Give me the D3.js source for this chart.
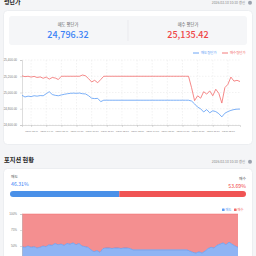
<!DOCTYPE html>
<html>
<head>
<meta charset="utf-8">
<script src="https://cdn.jsdelivr.net/npm/d3@7"></script>
<style>
  html, body { margin: 0; padding: 0; background: #f4f5f7; }
  svg { display: block; font-family: "Noto Sans CJK KR", "Noto Sans", sans-serif; }
</style>
</head>
<body>
<svg id="chart" width="256" height="256"></svg>
<script>
// ---- data ----
const summaryLabels = ["매도 평단가", "매수 평단가"];
const summaryValues = [24796.32, 25135.42];

const sellAvg = [
  24965, 24945, 24955, 24950, 24960, 24955, 24962, 24960, 24985, 25010,
  24975, 24965, 24960, 24970, 24978, 24985, 24990, 24992, 24990, 24993,
  24985, 24982, 24960, 24930, 24925, 24928, 24888, 24905, 24905, 24905,
  24905, 24905, 24905, 24905, 24905, 24905, 24905, 24905, 24905, 24905,
  24905, 24905, 24905, 24905, 24905, 24905, 24905, 24905, 24905, 24905,
  24905, 24905, 24905, 24905, 24905, 24905, 24895, 24860, 24820, 24800,
  24760, 24790, 24750, 24775, 24765, 24740, 24700, 24745, 24765, 24780,
  24790, 24795, 24796
];
const buyAvg = [
  25205, 25195, 25200, 25190, 25198, 25185, 25192, 25175, 25190, 25165,
  25185, 25178, 25160, 25200, 25200, 25200, 25200, 25200, 25200, 25200,
  25215, 25205, 25170, 25130, 25150, 25120, 25160, 25200, 25200, 25200,
  25200, 25200, 25200, 25200, 25200, 25200, 25200, 25200, 25200, 25200,
  25200, 25200, 25200, 25200, 25200, 25200, 25200, 25200, 25200, 25200,
  25200, 25200, 25200, 25200, 25200, 25200, 25060, 24900, 24960, 24930,
  25010, 24980, 25020, 24960, 25040, 24990, 24870, 25060, 25100, 25190,
  25140, 25150, 25135
];
const priceTicks = [24600, 24800, 25000, 25200, 25400];
const timeTickIndex = [3, 8, 13, 18, 23, 28, 33, 38, 43, 48, 53, 58, 63, 68];
const timeTickLabels = [
  "03/06 13:40", "03/06 14:40", "03/06 15:40", "03/09 09:10", "03/09 10:10",
  "03/09 11:10", "03/09 12:10", "03/09 13:10", "03/09 14:10", "03/09 15:10",
  "03/10 09:10", "03/10 10:10", "03/10 11:10", "03/10 12:10"
];
const seriesNames = ["매도평단가", "매수평단가"];

const positionLabels = ["매도", "매수"];
const positionShare = [46.31, 53.69];
const sellShare = [
  49, 48, 50, 48, 49, 47, 48, 50, 49, 52,
  51, 54, 52, 53, 51, 54, 53, 55, 52, 54,
  50, 49, 48, 44, 41, 43, 40, 46, 47, 47,
  46, 47, 47, 46, 47, 47, 46, 44, 44, 44,
  44, 44, 44, 44, 44, 44, 44, 44, 44, 44,
  44, 44, 44, 44, 44, 44, 42, 40, 39, 41,
  39, 42, 46, 48, 47, 51, 53, 55, 52, 56,
  53, 50, 48
];
const shareTicks = [50, 75, 100];
const updatedAt = "2026.03.10 10:10 갱신";

// ---- layout ----
const svg = d3.select("#chart");
const BLUE = "#3b82f6", RED = "#ef4444";

// top section (scrolled, title partly out of view)
svg.append("text").attr("x", 4).attr("y", 4).attr("font-size", 6)
  .attr("font-weight", 700).attr("fill", "#222").text("평단가");
const stamp = (y) => {
  svg.append("text").attr("x", 245).attr("y", y).attr("text-anchor", "end")
    .attr("font-size", 3.4).attr("fill", "#888").text(updatedAt);
  svg.append("circle").attr("cx", 250).attr("cy", y - 1.2).attr("r", 2)
    .attr("fill", "#9ca3af");
};
stamp(4);

// card 1
svg.append("rect").attr("x", 3.5).attr("y", 10.5).attr("width", 249).attr("height", 134)
  .attr("rx", 4).attr("fill", "#fff").attr("stroke", "#eceef1");
svg.append("rect").attr("x", 9).attr("y", 16).attr("width", 238).attr("height", 29)
  .attr("rx", 3).attr("fill", "#f5f6f8");
svg.append("line").attr("x1", 128).attr("x2", 128).attr("y1", 20).attr("y2", 41)
  .attr("stroke", "#e2e4e8").attr("stroke-width", 0.6);

const fmt = d3.format(",.2f");
summaryLabels.forEach((lab, i) => {
  const cx = i === 0 ? 68 : 188;
  svg.append("text").attr("x", cx).attr("y", 26).attr("text-anchor", "middle")
    .attr("font-size", 4.3).attr("fill", "#666").text(lab);
  svg.append("text").attr("x", cx).attr("y", 38).attr("text-anchor", "middle")
    .attr("font-size", 9).attr("font-weight", 500)
    .attr("fill", i === 0 ? BLUE : RED).text(fmt(summaryValues[i]));
});

// legend for line chart
const lineColors = ["#5b9cf5", "#f26b6b"];
const legX = [193, 222];
seriesNames.forEach((n, i) => {
  svg.append("line").attr("x1", legX[i]).attr("x2", legX[i] + 6).attr("y1", 53).attr("y2", 53)
    .attr("stroke", lineColors[i]).attr("stroke-width", 0.9);
  svg.append("text").attr("x", legX[i] + 8).attr("y", 54.2).attr("font-size", 3.4)
    .attr("fill", lineColors[i]).text(n);
});

// line chart
const xL = d3.scaleLinear().domain([0, sellAvg.length - 1]).range([22, 240]);
const yL = d3.scaleLinear().domain([24600, 25400]).range([125, 60]);
const g1 = svg.append("g");

g1.selectAll(".hgrid").data(priceTicks).join("line")
  .attr("x1", 22).attr("x2", 240).attr("y1", d => yL(d)).attr("y2", d => yL(d))
  .attr("stroke", "#ddd").attr("stroke-width", 0.4).attr("stroke-dasharray", "1.5,1.5");
g1.selectAll(".vgrid").data(timeTickIndex).join("line")
  .attr("x1", d => xL(d)).attr("x2", d => xL(d)).attr("y1", 60).attr("y2", 125)
  .attr("stroke", "#ddd").attr("stroke-width", 0.4).attr("stroke-dasharray", "1.5,1.5");

const yAxis = d3.axisLeft(yL).tickValues(priceTicks).tickFormat(fmt).tickSize(2);
g1.append("g").attr("transform", "translate(22,0)").call(yAxis)
  .call(a => a.selectAll("text").attr("font-size", 3).attr("fill", "#777"))
  .call(a => a.selectAll("line,path").attr("stroke", "#bbb").attr("stroke-width", 0.5));

const xAxis = d3.axisBottom(xL).tickValues(timeTickIndex)
  .tickFormat((d, i) => timeTickLabels[i]).tickSize(2);
g1.append("g").attr("transform", "translate(0,125)").call(xAxis)
  .call(a => a.selectAll("text").attr("font-size", 2.4).attr("fill", "#777"))
  .call(a => a.selectAll("line,path").attr("stroke", "#bbb").attr("stroke-width", 0.5));

const line = d3.line().x((d, i) => xL(i)).y(d => yL(d));
[sellAvg, buyAvg].forEach((s, i) => {
  g1.append("path").datum(s).attr("d", line).attr("fill", "none")
    .attr("stroke", lineColors[i]).attr("stroke-width", 0.8);
});

// section 2
svg.append("text").attr("x", 4).attr("y", 162).attr("font-size", 6.2)
  .attr("font-weight", 700).attr("fill", "#222").text("포지션 현황");
stamp(163);

svg.append("rect").attr("x", 3.5).attr("y", 168.5).attr("width", 249).attr("height", 100)
  .attr("rx", 4).attr("fill", "#fff").attr("stroke", "#eceef1");

svg.append("text").attr("x", 11).attr("y", 178).attr("font-size", 3.8)
  .attr("fill", "#555").text(positionLabels[0]);
svg.append("text").attr("x", 11).attr("y", 186).attr("font-size", 5.2)
  .attr("fill", BLUE).text(positionShare[0].toFixed(2) + "%");
svg.append("text").attr("x", 246).attr("y", 180).attr("text-anchor", "end")
  .attr("font-size", 3.8).attr("fill", "#555").text(positionLabels[1]);
svg.append("text").attr("x", 246).attr("y", 188).attr("text-anchor", "end")
  .attr("font-size", 5.2).attr("fill", RED).text(positionShare[1].toFixed(2) + "%");

const xBar = d3.scaleLinear().domain([0, 100]).range([10, 246]);
svg.append("defs").append("clipPath").attr("id", "barclip").append("rect")
  .attr("x", 10).attr("y", 191).attr("width", 236).attr("height", 6).attr("rx", 3);
const bar = svg.append("g").attr("clip-path", "url(#barclip)");
bar.append("rect").attr("x", xBar(0)).attr("y", 191)
  .attr("width", xBar(positionShare[0]) - xBar(0)).attr("height", 6).attr("fill", "#4a90e8");
bar.append("rect").attr("x", xBar(positionShare[0])).attr("y", 191)
  .attr("width", xBar(100) - xBar(positionShare[0])).attr("height", 6).attr("fill", "#f05454");

// legend area chart
const areaColors = ["#5b9cf5", "#f26b6b"];
const leg2X = [222, 234];
positionLabels.forEach((n, i) => {
  svg.append("rect").attr("x", leg2X[i]).attr("y", 208.5).attr("width", 2.6).attr("height", 2.6)
    .attr("rx", 0.5).attr("fill", areaColors[i]);
  svg.append("text").attr("x", leg2X[i] + 3.6).attr("y", 211).attr("font-size", 3.2)
    .attr("fill", areaColors[i]).text(n);
});

// stacked area
const xA = d3.scaleLinear().domain([0, sellShare.length - 1]).range([22, 238]);
const yA = d3.scaleLinear().domain([0, 100]).range([278, 214]);
const g2 = svg.append("g");
g2.append("path").datum(sellShare)
  .attr("d", d3.area().x((d, i) => xA(i)).y0(yA(100)).y1(d => yA(d)))
  .attr("fill", "#f48f90");
g2.append("path").datum(sellShare)
  .attr("d", d3.area().x((d, i) => xA(i)).y0(yA(0)).y1(d => yA(d)))
  .attr("fill", "#8fb4f4");
g2.append("path").datum(sellShare)
  .attr("d", d3.line().x((d, i) => xA(i)).y(d => yA(d)))
  .attr("fill", "none").attr("stroke", "#5b8fe8").attr("stroke-width", 0.6);
g2.append("line").attr("x1", 22).attr("x2", 238).attr("y1", yA(100)).attr("y2", yA(100))
  .attr("stroke", "#f26b6b").attr("stroke-width", 0.5);

const yAxis2 = d3.axisLeft(yA).tickValues(shareTicks).tickFormat(d => d + "%").tickSize(2);
g2.append("g").attr("transform", "translate(22,0)").call(yAxis2)
  .call(a => a.selectAll("text").attr("font-size", 3).attr("fill", "#777"))
  .call(a => a.selectAll("line,path").attr("stroke", "#bbb").attr("stroke-width", 0.5));
</script>
</body>
</html>
